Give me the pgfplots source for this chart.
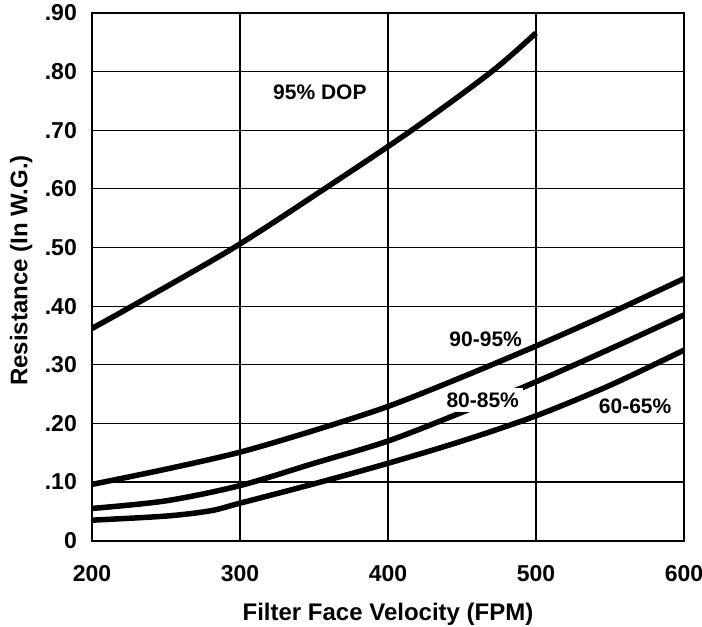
\documentclass[border=0pt]{standalone}
\usepackage{fontspec}
\setmainfont{Liberation Sans}
\usepackage{pgfplots}
\pgfplotsset{compat=1.18}
\begin{document}
\begin{tikzpicture}
\useasboundingbox (0,0) rectangle (702bp,627bp);
\begin{axis}[
  at={(92bp,86.3bp)}, anchor=south west,
  scale only axis, width=592bp, height=527.7bp,
  xmin=200, xmax=600, ymin=0, ymax=0.9,
  xtick={200,300,400,500,600},
  ytick={0,0.1,0.2,0.3,0.4,0.5,0.6,0.7,0.8,0.9},
  yticklabels={0,.10,.20,.30,.40,.50,.60,.70,.80,.90},
  major tick length=0pt,
  grid=major, grid style={black, line width=1.2bp},
  axis line style={line width=2.2bp},
  tick label style={font=\fontsize{23bp}{27bp}\selectfont\bfseries, inner sep=0pt},
  /pgf/number format/assume math mode=true,
  xticklabel style={anchor=north, yshift=-24.5bp},
  yticklabel style={anchor=east, xshift=-15bp},
  xlabel={Filter Face Velocity (FPM)},
  ylabel={Resistance (In W.G.)},
  label style={font=\fontsize{24bp}{28bp}\selectfont\bfseries},
  xlabel style={at={(axis description cs:0.5,-0.1503)}, anchor=base},
  ylabel style={at={(axis description cs:-0.109,0.512)}, anchor=base},
]
\addplot[black, line width=5.5bp, smooth] coordinates {
 (200,0.362) (227,0.400) (296,0.500) (357,0.600) (416,0.700) (470,0.800) (500,0.866)};
\addplot[black, line width=5.5bp, smooth] coordinates {
 (200,0.096) (250,0.122) (300,0.151) (350,0.188) (400,0.229) (450,0.279) (500,0.332) (550,0.388) (600,0.447)};
\addplot[black, line width=5.5bp, smooth] coordinates {
 (200,0.055) (250,0.068) (300,0.094) (350,0.132) (400,0.170) (450,0.219) (500,0.271) (550,0.327) (600,0.385)};
\addplot[black, line width=5.5bp, smooth] coordinates {
 (200,0.035) (250,0.042) (280,0.051) (300,0.064) (350,0.097) (400,0.132) (450,0.170) (500,0.213) (550,0.265) (600,0.325)};
\node[font=\fontsize{21bp}{25bp}\selectfont\bfseries] at (axis cs:354,0.764) {95\% DOP};
\node[font=\fontsize{21bp}{25bp}\selectfont\bfseries] at (axis cs:466,0.343) {90-95\%};
\node[font=\fontsize{21bp}{25bp}\selectfont\bfseries, fill=white, inner sep=4.5bp] at (axis cs:464,0.240) {80-85\%};
\node[font=\fontsize{21bp}{25bp}\selectfont\bfseries] at (axis cs:567,0.230) {60-65\%};
\end{axis}
\end{tikzpicture}
\end{document}
